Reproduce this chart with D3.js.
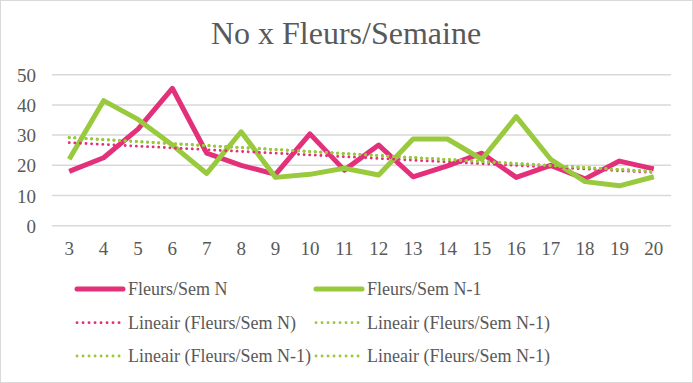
<!DOCTYPE html>
<html><head><meta charset="utf-8">
<script src="https://cdn.jsdelivr.net/npm/d3@7"></script>
<style>
body{margin:0;background:#fff;}
svg{display:block;}
</style></head>
<body><svg id="c" width="693" height="383"></svg>
<script>
const weeks = [3,4,5,6,7,8,9,10,11,12,13,14,15,16,17,18,19,20];
const seriesN = [18,22.5,32,45.5,24,20,17,30.4,18.4,26.7,16.2,19.8,24,16,20,15.5,21.4,18.8];
const seriesN1 = [22,41.4,35.2,26.7,17.3,31.1,16,17,19,16.8,28.7,28.7,22,36.1,22,14.6,13.2,16.2];
const yTicks = [0,10,20,30,40,50];
const title = "No x Fleurs/Semaine";
const legendLabels = ["Fleurs/Sem N","Fleurs/Sem N-1","Lineair (Fleurs/Sem N)","Lineair (Fleurs/Sem N-1)","Lineair (Fleurs/Sem N-1)","Lineair (Fleurs/Sem N-1)"];

const FONT = '"Liberation Serif", serif';
const TXT = "#595959";
const pink = "#e3307a", green = "#99c93c";
const svg = d3.select("#c");
svg.append("rect").attr("x",0.5).attr("y",0.5).attr("width",692).attr("height",382).attr("fill","#fff").attr("stroke","#d9d9d9");

const x = d3.scaleBand().domain(weeks).range([52,671]);
const y = d3.scaleLinear().domain([0,50]).range([225.7,74.7]);
const cx = d => x(d)+x.bandwidth()/2;

// grid
svg.append("g").selectAll("line").data(yTicks).join("line")
  .attr("x1",52).attr("x2",671).attr("y1",d=>y(d)).attr("y2",d=>y(d))
  .attr("stroke","#d9d9d9").attr("stroke-width",1.5);

// y axis labels
const yAxis = d3.axisLeft(y).tickValues(yTicks).tickSize(0).tickPadding(0);
const ga = svg.append("g").attr("transform","translate(36,0)").call(yAxis);
ga.select(".domain").remove();
ga.selectAll("text").attr("font-size",19).attr("fill",TXT).attr("dy","0.35em")
  .style("font-family",FONT);

const xAxis = d3.axisBottom(x).tickSize(0).tickPadding(0);
const gx = svg.append("g").attr("transform","translate(0,255)").call(xAxis);
gx.select(".domain").remove();
gx.selectAll("text").attr("font-size",19).attr("fill",TXT).attr("dy","0").attr("y",0)
  .style("font-family",FONT);

// trend lines (least squares)
function fit(vals){
  const n=vals.length, xs=weeks;
  const mx=d3.mean(xs), my=d3.mean(vals);
  let sxy=0,sxx=0;
  for(let i=0;i<n;i++){sxy+=(xs[i]-mx)*(vals[i]-my);sxx+=(xs[i]-mx)**2;}
  const b=sxy/sxx, a=my-b*mx;
  return xs.map(v=>a+b*v);
}
const line = d3.line().x((d,i)=>cx(weeks[i])).y(d=>y(d));

svg.append("path").attr("d",line(seriesN)).attr("fill","none").attr("stroke",pink)
  .attr("stroke-width",5).attr("stroke-linejoin","round");
svg.append("path").attr("d",line(seriesN1)).attr("fill","none").attr("stroke",green)
  .attr("stroke-width",5).attr("stroke-linejoin","round");

const trendN = fit(seriesN), trendN1 = fit(seriesN1);
svg.append("path").attr("d",line(trendN)).attr("fill","none").attr("stroke",pink)
  .attr("stroke-width",2.8).attr("stroke-dasharray","0.1,5.5").attr("stroke-linecap","round");
for(let k=0;k<3;k++){
svg.append("path").attr("d",line(trendN1)).attr("fill","none").attr("stroke",green)
  .attr("stroke-width",2.8).attr("stroke-dasharray","0.1,5.5").attr("stroke-linecap","round");
}

// title
svg.append("text").attr("x",346).attr("y",43.5).attr("text-anchor","middle")
  .attr("font-size",32).attr("fill",TXT).style("font-family",FONT).text(title);

// legend
const legPos = [[77,289],[316,289],[77,322.7],[316,322.7],[77,356],[316,356]];
const legCol = [pink,green,pink,green,green,green];
legendLabels.forEach((lab,i)=>{
  const [lx,ly]=legPos[i];
  const solid = i<2;
  svg.append("line").attr("x1",lx).attr("x2",lx+46).attr("y1",ly).attr("y2",ly)
    .attr("stroke",legCol[i]).attr("stroke-width",solid?5:2.8)
    .attr("stroke-linecap","round")
    .attr("stroke-dasharray",solid?null:"0.1,5.9");
  svg.append("text").attr("x",lx+51).attr("y",ly).attr("dy","0.34em")
    .attr("font-size",18).attr("fill",TXT).style("font-family",FONT).text(lab);
});
</script></body></html>
